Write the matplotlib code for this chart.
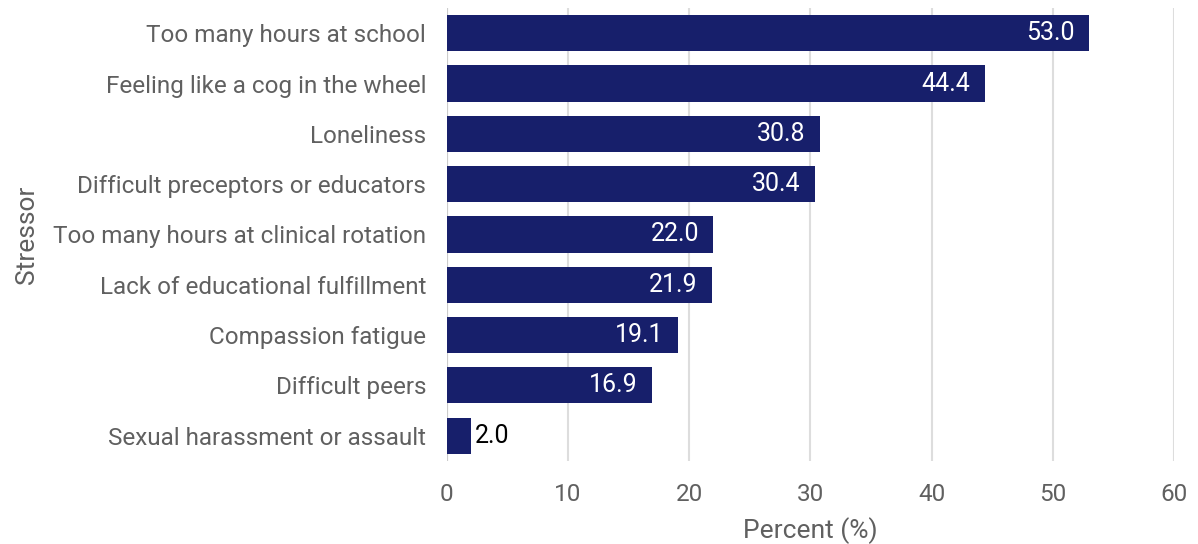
import matplotlib
matplotlib.use('Agg')
import matplotlib.pyplot as plt

stressors = ['Too many hours at school', 'Feeling like a cog in the wheel', 'Loneliness',
             'Difficult preceptors or educators', 'Too many hours at clinical rotation',
             'Lack of educational fulfillment', 'Compassion fatigue', 'Difficult peers',
             'Sexual harassment or assault']
percent = [53.0, 44.4, 30.8, 30.4, 22.0, 21.9, 19.1, 16.9, 2.0]
xticks = [0, 10, 20, 30, 40, 50, 60]

plt.rcParams['font.family'] = ['Roboto', 'DejaVu Sans']
grey = '#606060'
navy = '#171f6b'

fig = plt.figure(figsize=(11.98, 5.44), dpi=100)
ax = fig.add_axes([0.373, 0.153, 0.607, 0.832])

ypos = list(range(len(stressors)))
ax.barh(ypos, percent, height=0.72, color=navy, zorder=3)
for y, v in zip(ypos, percent):
    if v > 5:
        ax.text(v - 1.2, y, '%.1f' % v, ha='right', va='center', color='white', fontsize=18, zorder=4)
    else:
        ax.text(v + 0.3, y, '%.1f' % v, ha='left', va='center', color='black', fontsize=18, zorder=4)

ax.set_ylim(len(stressors) - 0.5, -0.5)
ax.set_xlim(0, 60)
ax.set_yticks(ypos)
ax.set_yticklabels(stressors, fontsize=17.5, color=grey)
ax.set_xticks(xticks)
ax.set_xticklabels([str(t) for t in xticks], fontsize=17.5, color=grey)
ax.tick_params(length=0)
ax.tick_params(axis='y', pad=15)
ax.tick_params(axis='x', pad=16)
ax.grid(axis='x', color='#dddddd', linewidth=1.5, zorder=0)
for s in ax.spines.values():
    s.set_visible(False)
ax.axvline(0, color='#cccccc', linewidth=1.5, zorder=2)
ax.set_xlabel('Percent (%)', fontsize=19, color=grey, labelpad=8)
ax.set_ylabel('Stressor', fontsize=19, color=grey, labelpad=10)

fig.savefig('out.png', dpi=100)
